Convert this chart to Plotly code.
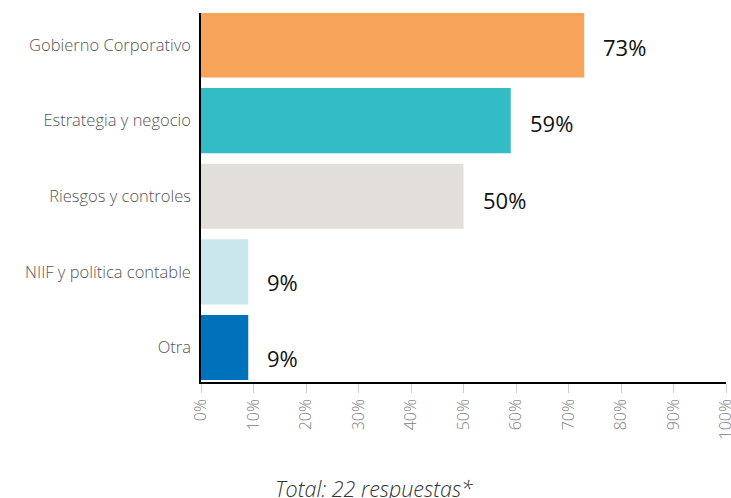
import plotly.graph_objects as go

categories = ["Gobierno Corporativo", "Estrategia y negocio", "Riesgos y controles",
              "NIIF y política contable", "Otra"]
values = [73, 59, 50, 9, 9]
colors = ["#F5A45A", "#33BCC6", "#E2DFDA", "#C9E7EC", "#0072BC"]
label_yshift = [-2, -2, -4, -10, -10]
tick_vals = [0, 10, 20, 30, 40, 50, 60, 70, 80, 90, 100]
tick_text = [f"{v}%" for v in tick_vals]

pos = list(range(len(categories)))

fig = go.Figure(go.Bar(
    x=values, y=pos, orientation="h",
    marker=dict(color=colors, line=dict(width=0)),
    width=0.86, hoverinfo="skip",
))

for p, v, ys in zip(pos, values, label_yshift):
    fig.add_annotation(x=v, y=p, text=f"{v}%", showarrow=False,
                       xanchor="left", xshift=17, yshift=ys,
                       font=dict(family="Open Sans", size=22, color="#111111", weight=400))

# caption below the rotated tick labels
fig.add_annotation(x=0.33, y=0, xref="paper", yref="paper", yshift=-106,
                   xanchor="center", yanchor="middle",
                   text="<i>Total: 22 respuestas*</i>", showarrow=False,
                   font=dict(family="Open Sans", size=21.5, color="#333333", weight=300))

fig.update_layout(
    width=731, height=498,
    margin=dict(l=201, r=5, t=13, b=116, autoexpand=False),
    plot_bgcolor="white", paper_bgcolor="white",
    showlegend=False,
    font=dict(family="Open Sans", weight=300),
    xaxis=dict(range=[0, 100], tickvals=tick_vals, ticktext=tick_text,
               tickangle=-90, showgrid=False, zeroline=False, automargin=False,
               showline=True, linecolor="black", linewidth=1.5,
               ticks="outside", ticklen=9, tickcolor="#cccccc", tickwidth=1,
               ticklabeloverflow="allow",
               tickfont=dict(family="Open Sans", size=16, color="#808080", weight=300)),
    yaxis=dict(range=[4.456, -0.423], tickvals=pos, ticktext=categories,
               showgrid=False, zeroline=False, automargin=False,
               showline=True, linecolor="black", linewidth=1.5,
               ticks="outside", ticklen=5, tickcolor="rgba(0,0,0,0)",
               tickfont=dict(family="Open Sans", size=16.5, color="#555555", weight=300)),
)

fig.write_html("out.html")
